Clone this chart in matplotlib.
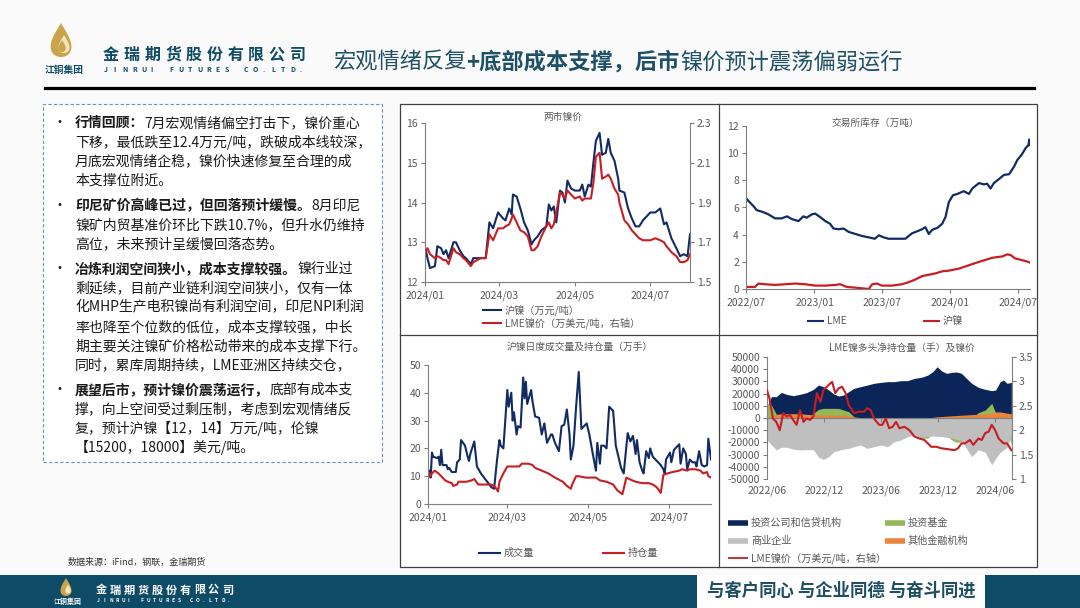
import numpy as np
import pandas as pd
import matplotlib
matplotlib.use('Agg')
import matplotlib.pyplot as plt
import matplotlib.dates as mdates
from matplotlib.lines import Line2D
from matplotlib.patches import Rectangle, Polygon

plt.rcParams['font.family'] = ['Noto Sans CJK SC', 'DejaVu Sans']
plt.rcParams['axes.unicode_minus'] = False

# ---------------- data ----------------
# chart 1: 两市镍价
c1_dates = ['2024-01-02', '2024-01-03', '2024-01-05', '2024-01-09', '2024-01-11', '2024-01-14',
            '2024-01-16', '2024-01-18', '2024-01-20', '2024-01-24', '2024-01-26', '2024-01-29',
            '2024-02-01', '2024-02-03', '2024-02-07', '2024-02-09', '2024-02-15', '2024-02-19',
            '2024-02-22', '2024-02-25', '2024-02-29', '2024-03-04', '2024-03-06', '2024-03-09',
            '2024-03-11', '2024-03-12', '2024-03-15', '2024-03-18', '2024-03-21', '2024-03-24',
            '2024-03-27', '2024-03-29', '2024-04-01', '2024-04-04', '2024-04-08', '2024-04-10',
            '2024-04-12', '2024-04-14', '2024-04-16', '2024-04-19', '2024-04-21', '2024-04-23',
            '2024-04-25', '2024-04-28', '2024-05-01', '2024-05-05', '2024-05-07', '2024-05-09',
            '2024-05-12', '2024-05-14', '2024-05-16', '2024-05-18', '2024-05-21', '2024-05-23',
            '2024-05-26', '2024-05-28', '2024-05-30', '2024-06-02', '2024-06-05', '2024-06-06',
            '2024-06-10', '2024-06-13', '2024-06-16', '2024-06-19', '2024-06-22', '2024-06-25',
            '2024-07-01', '2024-07-05', '2024-07-09', '2024-07-12', '2024-07-14', '2024-07-18',
            '2024-07-22', '2024-07-25', '2024-07-28', '2024-07-31', '2024-08-02']
c1_shfe = [12.75, 12.6, 12.35, 12.4, 12.9, 12.85, 12.7, 12.8, 12.6, 13.0, 13.0, 12.8,
           12.65, 12.6, 12.45, 12.6, 12.6, 12.6, 13.5, 13.35, 13.75,
           13.6, 13.55, 13.85, 13.7, 14.2, 14.15, 13.85, 13.5, 13.3, 12.95, 13.05,
           13.15, 13.3, 13.4, 13.95, 13.8, 13.9, 13.5, 14.3, 14.25, 14.0, 14.55, 14.35,
           14.3, 14.3, 14.45, 14.15, 14.45, 14.4, 15.0, 15.55, 15.75, 15.2, 15.25, 15.6, 15.25,
           15.05, 14.6, 14.3, 14.25, 13.85, 13.6, 13.4, 13.4, 13.55,
           13.75, 13.75, 13.85, 13.45, 13.5, 13.1, 12.85, 12.65, 12.7, 12.65, 13.2]
c1_lme = [1.66, 1.67, 1.64, 1.62, 1.63, 1.62, 1.61, 1.61, 1.59, 1.67, 1.65, 1.64,
          1.62, 1.61, 1.58, 1.60, 1.62, 1.62, 1.74, 1.71, 1.77,
          1.77, 1.78, 1.79, 1.82, 1.84, 1.80, 1.76, 1.75, 1.73, 1.66, 1.66,
          1.68, 1.73, 1.78, 1.80, 1.77, 1.79, 1.85, 1.95, 1.94, 1.92, 1.96, 1.94,
          1.92, 1.93, 1.91, 1.92, 1.92, 1.92, 2.00, 2.13, 2.15, 2.02, 2.03, 2.04, 2.02,
          1.97, 1.94, 1.90, 1.81, 1.79, 1.76, 1.74, 1.72, 1.71,
          1.71, 1.72, 1.71, 1.70, 1.68, 1.65, 1.63, 1.60, 1.60, 1.61, 1.64]

# chart 2: 交易所库存
c2_lme_dates = ['2022-07-01', '2022-07-07', '2022-07-21', '2022-07-30', '2022-08-12', '2022-08-30',
                '2022-09-17', '2022-10-05', '2022-10-19', '2022-11-01', '2022-11-19', '2022-12-02',
                '2022-12-11', '2022-12-25', '2023-01-03', '2023-01-16', '2023-01-30', '2023-02-12',
                '2023-02-21', '2023-03-07', '2023-03-20', '2023-04-03', '2023-04-21', '2023-05-09',
                '2023-05-27', '2023-06-12', '2023-06-23', '2023-07-06', '2023-07-19', '2023-08-06',
                '2023-09-02', '2023-09-20', '2023-10-04', '2023-10-17', '2023-10-26', '2023-11-04',
                '2023-11-13', '2023-11-27', '2023-12-10', '2023-12-19', '2023-12-28', '2024-01-08',
                '2024-01-20', '2024-02-06', '2024-02-20', '2024-02-29', '2024-03-18', '2024-03-31',
                '2024-04-09', '2024-04-18', '2024-04-27', '2024-05-11', '2024-05-24', '2024-06-07',
                '2024-06-20', '2024-06-29', '2024-07-11', '2024-07-22', '2024-07-29', '2024-07-31',
                '2024-08-01']
c2_lme = [6.7, 6.5, 6.1, 5.8, 5.7, 5.5, 5.2, 5.2, 5.35, 5.15, 5.0, 5.35, 5.25, 5.5,
          5.55, 5.3, 5.0, 4.8, 4.45, 4.4, 4.45, 4.2, 4.05, 3.9, 3.8, 3.7, 3.95, 3.8, 3.7, 3.7,
          3.7, 4.1, 4.25, 4.4, 4.55, 4.05, 4.35, 4.5, 4.8, 5.3, 6.4,
          6.9, 7.0, 7.2, 7.0, 7.4, 7.8, 7.7, 7.75, 7.4, 7.8, 8.1, 8.4, 8.45, 9.0, 9.5, 9.9,
          10.4, 10.6, 11.0, 10.6]
c2_shfe_dates = ['2022-07-01', '2022-07-25', '2022-08-03', '2022-08-21', '2022-09-17', '2022-10-14',
                 '2022-11-10', '2022-12-07', '2023-01-03', '2023-01-30', '2023-02-26', '2023-03-11',
                 '2023-03-29', '2023-04-21', '2023-05-09', '2023-05-27', '2023-06-05', '2023-06-18',
                 '2023-07-01', '2023-07-28', '2023-08-24', '2023-09-11', '2023-09-29', '2023-10-17',
                 '2023-11-04', '2023-11-22', '2023-12-10', '2023-12-28', '2024-01-24', '2024-02-20',
                 '2024-03-18', '2024-04-05', '2024-04-23', '2024-05-20', '2024-06-02', '2024-06-11',
                 '2024-06-23', '2024-07-08', '2024-07-22', '2024-08-01']
c2_shfe = [0.15, 0.15, 0.4, 0.35, 0.3, 0.35, 0.4, 0.35, 0.25, 0.25, 0.3, 0.35, 0.15, 0.1,
           0.05, 0.0, 0.35, 0.4, 0.25, 0.25, 0.35, 0.5, 0.7, 0.95, 1.05, 1.15, 1.3, 1.35,
           1.5, 1.75, 2.0, 2.15, 2.3, 2.4, 2.55, 2.5, 2.25, 2.15, 2.05, 1.95]

# chart 3: 沪镍日度成交量及持仓量
c3_vol_dates = ['2024-01-02', '2024-01-03', '2024-01-04', '2024-01-05', '2024-01-08', '2024-01-09',
                '2024-01-10', '2024-01-11', '2024-01-12', '2024-01-15', '2024-01-16', '2024-01-17',
                '2024-01-19', '2024-01-22', '2024-01-23', '2024-01-25', '2024-01-26', '2024-01-29',
                '2024-01-31', '2024-02-01', '2024-02-02', '2024-02-05', '2024-02-07', '2024-02-10',
                '2024-02-14', '2024-02-18', '2024-02-20', '2024-02-22', '2024-02-24', '2024-02-25',
                '2024-02-27', '2024-03-01', '2024-03-02', '2024-03-04', '2024-03-05', '2024-03-06',
                '2024-03-08', '2024-03-09', '2024-03-11', '2024-03-13', '2024-03-14', '2024-03-15',
                '2024-03-16', '2024-03-19', '2024-03-20', '2024-03-22', '2024-03-25', '2024-03-27',
                '2024-03-29', '2024-03-31', '2024-04-03', '2024-04-04', '2024-04-06', '2024-04-09',
                '2024-04-11', '2024-04-13', '2024-04-15', '2024-04-17', '2024-04-18', '2024-04-20',
                '2024-04-22', '2024-04-24', '2024-04-26', '2024-04-28', '2024-04-30', '2024-05-02',
                '2024-05-05', '2024-05-07', '2024-05-08', '2024-05-10', '2024-05-11', '2024-05-13',
                '2024-05-15', '2024-05-17', '2024-05-20', '2024-05-22', '2024-05-24', '2024-05-26',
                '2024-05-28', '2024-05-31', '2024-06-02', '2024-06-04', '2024-06-06', '2024-06-07',
                '2024-06-09', '2024-06-11', '2024-06-12', '2024-06-14', '2024-06-16', '2024-06-17',
                '2024-06-19', '2024-06-22', '2024-06-25', '2024-06-27', '2024-06-28', '2024-06-29',
                '2024-07-02', '2024-07-03', '2024-07-05', '2024-07-07', '2024-07-09', '2024-07-10',
                '2024-07-12', '2024-07-14', '2024-07-15', '2024-07-17', '2024-07-19', '2024-07-21',
                '2024-07-22', '2024-07-24', '2024-07-26', '2024-07-28', '2024-07-30', '2024-07-31',
                '2024-08-02']
c3_vol = [12, 9.5, 18.5, 17, 16.5, 17, 14, 19.5, 14, 14, 12.5, 13,
          11.5, 11.5, 15, 16, 23, 21, 17, 15.5, 18, 22.5, 13.5, 11,
          8.5, 6, 5.5, 15, 23, 21, 20, 41, 35, 40, 30, 33,
          25, 28, 27.5, 45.5, 38, 44, 36, 41, 37, 31.5, 31, 25,
          29, 22, 25, 25, 22, 19, 28, 28.5, 34, 25, 16, 21,
          35, 47.5, 27, 28, 29, 25, 17, 12, 22, 14.5, 21, 21,
          20, 35, 33.5, 21, 17, 13, 11, 25.5, 22.5, 24.5, 18, 23,
          15, 12, 11, 19, 16.5, 20, 17, 15.5, 14, 12.5, 11, 16,
          18.5, 15, 19.5, 20.5, 21.5, 14.5, 20, 18, 12.5, 16, 15, 15,
          13.5, 19, 14, 13.5, 14, 23.5, 16]
c3_oi_dates = ['2024-01-02', '2024-01-03', '2024-01-04', '2024-01-06', '2024-01-09', '2024-01-11',
               '2024-01-14', '2024-01-16', '2024-01-19', '2024-01-20', '2024-01-23', '2024-01-24',
               '2024-01-26', '2024-01-30', '2024-02-03', '2024-02-05', '2024-02-08', '2024-02-13',
               '2024-02-18', '2024-02-21', '2024-02-23', '2024-02-24', '2024-02-27', '2024-03-01',
               '2024-03-04', '2024-03-07', '2024-03-10', '2024-03-12', '2024-03-17', '2024-03-20',
               '2024-03-22', '2024-03-27', '2024-04-01', '2024-04-06', '2024-04-12', '2024-04-15',
               '2024-04-18', '2024-04-19', '2024-04-22', '2024-04-24', '2024-04-29', '2024-05-04',
               '2024-05-07', '2024-05-10', '2024-05-15', '2024-05-20', '2024-05-23', '2024-05-27',
               '2024-05-28', '2024-05-30', '2024-06-01', '2024-06-06', '2024-06-11', '2024-06-16',
               '2024-06-19', '2024-06-22', '2024-06-25', '2024-06-27', '2024-06-30', '2024-07-04',
               '2024-07-09', '2024-07-11', '2024-07-15', '2024-07-17', '2024-07-21', '2024-07-25',
               '2024-07-27', '2024-07-30', '2024-07-31', '2024-08-02']
c3_oi = [11, 10, 11, 12, 11, 10, 8.5, 8, 7.5, 6.5, 7, 8,
         8, 8, 8.5, 9, 7, 7, 7, 6, 4.5, 8, 11, 13.5,
         13.5, 13.5, 13.5, 14.5, 14.5, 14, 13, 12, 11, 9.5, 8, 6.5,
         5.5, 7, 10, 10, 9.5, 9.5, 9.5, 8.5, 8, 7, 5, 3.5,
         5.5, 9.5, 9, 8, 7.5, 7.5, 7, 6, 4, 10.5, 11, 11.5,
         12, 12.5, 12, 12.5, 12.5, 12, 11, 11.5, 10, 9.5]

# chart 4: LME镍多头净持仓量（手）及镍价
c4_dates = ['2022-06-01', '2022-06-15', '2022-07-01', '2022-07-17', '2022-08-03', '2022-08-24',
            '2022-09-15', '2022-10-06', '2022-10-28', '2022-11-13', '2022-11-29', '2022-12-16',
            '2023-01-01', '2023-01-17', '2023-02-02', '2023-02-18', '2023-03-07', '2023-03-28',
            '2023-04-19', '2023-05-10', '2023-06-01', '2023-06-23', '2023-07-14', '2023-08-05',
            '2023-08-26', '2023-09-17', '2023-10-09', '2023-10-30', '2023-11-15', '2023-11-29',
            '2023-12-12', '2023-12-29', '2024-01-14', '2024-01-30', '2024-02-15', '2024-03-02',
            '2024-03-19', '2024-04-09', '2024-05-01', '2024-05-22', '2024-06-04', '2024-06-18',
            '2024-06-29', '2024-07-10', '2024-07-24']
c4_invest = [9000, 17500, 17500, 21000, 19400, 18300, 19400, 20800, 23500, 27000, 25700, 23000,
             19700, 18000, 18900, 21600, 24300, 25700, 27000, 28400, 29200, 29800, 29800, 30600,
             30600, 32500, 33300, 35200, 38000, 42000, 38800, 36600,
             37400, 37700, 36600, 32500, 28400, 25100, 23500, 22400, 23000, 29800, 31100, 28400, 29200]
c4_funds = [12000, 10700, 3000, 500, 0, 0, 0, 0, 3800, 7000, 7900, 7900,
            7900, 7900, 6500, 5200, 1000, -5000, -8000, -8000, -8000, -10000, -10000, -10000,
            -12000, -13000, -16500, -16500, -13000, -12000, -12000, -14000,
            -18000, -20000, -19500, -8000, 0, 4400, 6500, 12000, 4000, 2500, 0, -10000, -22000]
c4_commercial = [-18000, -22000, -26200, -24000, -24000, -25500, -26200, -26000, -26000, -32000, -34000, -31700,
                 -27600, -26500, -25500, -24900, -23500, -22100, -24900, -23500, -22100, -23500, -19400, -18000,
                 -15300, -13900, -15800, -15300, -14800, -15000, -15300, -15800,
                 -16500, -17500, -18600, -25000, -31700, -26000, -28000, -38500, -33000, -28000, -26200, -24000, -14000]
c4_other = [0, 1500, 3000, 3500, 3500, 3500, 3500, 3000, 2500, 2500, 2500, 2500,
            2500, 2500, 2500, 2000, 1000, 300, 0, 0, 0, 0, 0, 0,
            0, 0, 0, 0, 500, 1000, 1200, 1500,
            1800, 2000, 2300, 2500, 2800, 3000, 3500, 4000, 5000, 5000, 4500, 4000, 3500]
c4_price_dates = ['2022-06-01', '2022-06-09', '2022-06-20', '2022-07-01', '2022-07-12', '2022-07-23',
                  '2022-08-03', '2022-08-14', '2022-08-24', '2022-09-04', '2022-09-15', '2022-09-26',
                  '2022-10-06', '2022-10-17', '2022-10-28', '2022-11-08', '2022-11-19', '2022-11-29',
                  '2022-12-16', '2022-12-27', '2023-01-06', '2023-01-17', '2023-01-28', '2023-02-08',
                  '2023-02-18', '2023-03-07', '2023-03-23', '2023-04-08', '2023-04-19', '2023-04-30',
                  '2023-05-10', '2023-05-27', '2023-06-06', '2023-06-17', '2023-06-28', '2023-07-09',
                  '2023-07-20', '2023-07-31', '2023-08-16', '2023-09-01', '2023-09-17', '2023-10-03',
                  '2023-10-19', '2023-11-10', '2023-11-26', '2023-12-12', '2024-01-03', '2024-01-24',
                  '2024-02-04', '2024-02-15', '2024-02-26', '2024-03-13', '2024-03-24', '2024-04-09',
                  '2024-04-20', '2024-05-01', '2024-05-12', '2024-05-22', '2024-06-02', '2024-06-13',
                  '2024-06-29', '2024-07-10', '2024-07-24']
c4_price = [2.82, 2.65, 2.24, 2.17, 2.0, 2.35, 2.28, 2.31, 2.21, 2.11, 2.41, 2.17,
            2.24, 2.21, 2.28, 2.76, 2.58, 2.82, 2.93, 2.99, 2.76, 2.86, 2.89, 2.76,
            2.52, 2.35, 2.38, 2.38, 2.45, 2.41, 2.24, 2.11, 2.11, 2.24, 2.04, 2.07,
            2.17, 2.04, 2.07, 2.0, 1.87, 1.83, 1.8, 1.66, 1.66, 1.63, 1.61, 1.59,
            1.63, 1.73, 1.73, 1.8, 1.7, 1.83, 1.8, 1.94, 1.97, 2.11, 2.0, 1.83,
            1.73, 1.73, 1.59]

# text
title_parts = [('宏观情绪反复', False), ('+底部成本支撑，后市', True), ('镍价预计震荡偏弱运行', False)]
paragraphs = [
    [[('行情回顾：', True), ('7月宏观情绪偏空打击下，镍价重心', False)],
     [('下移，最低跌至12.4万元/吨，跌破成本线较深，', False)],
     [('月底宏观情绪企稳，镍价快速修复至合理的成', False)],
     [('本支撑位附近。', False)]],
    [[('印尼矿价高峰已过，但回落预计缓慢。', True), ('8月印尼', False)],
     [('镍矿内贸基准价环比下跌10.7%，但升水仍维持', False)],
     [('高位，未来预计呈缓慢回落态势。', False)]],
    [[('冶炼利润空间狭小，成本支撑较强。', True), ('镍行业过', False)],
     [('剩延续，目前产业链利润空间狭小，仅有一体', False)],
     [('化MHP生产电积镍尚有利润空间，印尼NPI利润', False)],
     [('率也降至个位数的低位，成本支撑较强，中长', False)],
     [('期主要关注镍矿价格松动带来的成本支撑下行。', False)],
     [('同时，累库周期持续，LME亚洲区持续交仓，', False)]],
    [[('展望后市，预计镍价震荡运行，', True), ('底部有成本支', False)],
     [('撑，向上空间受过剩压制，考虑到宏观情绪反', False)],
     [('复，预计沪镍【12，14】万元/吨，伦镍', False)],
     [('【15200，18000】美元/吨。', False)]],
]
para_top = [123, 206, 269, 390]

NAVY = '#122b62'
RED = '#c81e23'
AREA_NAVY = '#0b2559'
GREEN = '#93b857'
GRAY = '#bfbfbf'
ORANGE = '#e8843c'
SPINE = '#7f7f7f'
TXT = '#595959'
TEAL = '#0e4b66'
TITLE_C = '#1f5166'
TICK_FS = 7.5

W, H = 1080, 608
fig = plt.figure(figsize=(10.8, 6.08), dpi=100, facecolor='#fafafa')
renderer = fig.canvas.get_renderer()


def fx(x):
    return x / W


def fy(y):
    return 1 - y / H


def add_ax(l, t, r, b):
    return fig.add_axes([l / W, 1 - b / H, (r - l) / W, (b - t) / H])


def rect_px(x, y, w, h, zorder=-5, **kw):
    fig.add_artist(Rectangle((fx(x), fy(y + h)), w / W, h / H, transform=fig.transFigure,
                             zorder=zorder, **kw))


def line_px(x1, y1, x2, y2, **kw):
    fig.add_artist(Line2D([fx(x1), fx(x2)], [fy(y1), fy(y2)], transform=fig.transFigure, **kw))


def rich_text(x, y, parts, size, color, **kw):
    for txt, bold in parts:
        t = fig.text(fx(x), fy(y), txt, fontsize=size, color=color, va='center', ha='left',
                     fontweight='bold' if bold else 'normal', **kw)
        x += t.get_window_extent(renderer).width


def spaced_text(x, y, s, step, size, color, weight='bold'):
    for i, ch in enumerate(s):
        fig.text(fx(x + i * step), fy(y), ch, fontsize=size, color=color, va='center', ha='left',
                 fontweight=weight)


def key(x, y, color, label, lw=1.5, w=20):
    line_px(x, y, x + w, y, color=color, lw=lw, solid_capstyle='butt')
    fig.text(fx(x + w + 3), fy(y), label, fontsize=7.3, color=TXT, va='center', ha='left')


def teardrop(cx, cy, h, color):
    t = np.linspace(0, 2 * np.pi, 120)
    xs = cx + np.sin(t) * np.sin(t / 2) ** 1.3 * h * 0.42
    ys = cy - np.cos(t) * h / 2
    fig.add_artist(Polygon(np.column_stack([fx(xs), fy(ys)]), closed=True, transform=fig.transFigure,
                           facecolor=color, edgecolor='none'))


def style(ax, left=True, right=False):
    for s in ['top', 'right', 'left', 'bottom']:
        ax.spines[s].set_visible(False)
    if left:
        ax.spines['left'].set_visible(True)
        ax.spines['left'].set_color(SPINE)
        ax.spines['left'].set_linewidth(0.8)
    if right:
        ax.spines['right'].set_visible(True)
        ax.spines['right'].set_color(SPINE)
        ax.spines['right'].set_linewidth(0.8)
    ax.tick_params(direction='out', length=3, width=0.8, color=SPINE, labelsize=TICK_FS,
                   labelcolor=TXT, pad=2)
    ax.set_facecolor('none')


def date_axis(ax, start, end, ticks, labels, bottom=True):
    ax.set_xlim(pd.Timestamp(start), pd.Timestamp(end))
    ax.set_xticks(pd.to_datetime(ticks))
    ax.set_xticklabels(labels)
    if bottom:
        ax.spines['bottom'].set_visible(True)
        ax.spines['bottom'].set_color(SPINE)
        ax.spines['bottom'].set_linewidth(0.8)
    ax.tick_params(axis='x', pad=3)


# ---------------- header ----------------
teardrop(61, 40, 34, '#c9a44c')
teardrop(64, 44, 18, '#f3e6bd')
teardrop(62, 46, 12, '#c9a44c')
fig.text(fx(64), fy(70), '江铜集团', fontsize=7, fontweight='bold', color=TEAL, ha='center', va='center')
spaced_text(103, 55, '金瑞期货股份有限公司', 20.7, 11.5, TEAL)
spaced_text(104, 69, 'JINRUI FUTURES CO.LTD.', 9.3, 5, TEAL)
rich_text(333, 62, title_parts, 16, TITLE_C)
line_px(45, 88, 1034, 88, color='black', lw=2.3)

# ---------------- left text box ----------------
rect_px(43, 104, 339, 358, facecolor='white', edgecolor='#6f8fb5', lw=0.8, linestyle=(0, (3, 2)))
for top, para in zip(para_top, paragraphs):
    fig.text(fx(53), fy(top), '•', fontsize=10, color='#1a1a1a', va='center', ha='left')
    for i, parts in enumerate(para):
        rich_text(75, top + i * 19.3, parts, 10, '#1a1a1a')
fig.text(fx(68), fy(562), '数据来源：iFind，钢联，金瑞期货', fontsize=6.5, color='#333333',
         va='center', ha='left', style='italic')

# ---------------- chart panels ----------------
rect_px(400, 104, 637, 463, facecolor='white', edgecolor='#404040', lw=0.9)
line_px(719, 104, 719, 567, color='#404040', lw=0.9, zorder=-4)
line_px(400, 335, 1037, 335, color='#404040', lw=0.9, zorder=-4)

# chart 1
ax1 = add_ax(425, 123, 690, 282)
style(ax1)
d1 = pd.to_datetime(c1_dates)
ax1.plot(d1, c1_shfe, color=NAVY, lw=1.5)
ax1.set_ylim(12, 16)
ax1.set_yticks([12, 13, 14, 15, 16])
date_axis(ax1, '2024-01-01', '2024-08-02',
          ['2024-01-01', '2024-03-01', '2024-05-01', '2024-07-01'],
          ['2024/01', '2024/03', '2024/05', '2024/07'])
ax1r = ax1.twinx()
style(ax1r, left=False, right=True)
ax1r.plot(d1, c1_lme, color=RED, lw=1.5)
ax1r.set_ylim(1.5, 2.3)
ax1r.set_yticks([1.5, 1.7, 1.9, 2.1, 2.3])
ax1r.set_yticklabels(['1.5', '1.7', '1.9', '2.1', '2.3'])
fig.text(fx(563), fy(117), '两市镍价', fontsize=7, color=TXT, ha='center', va='center')
key(482, 310, NAVY, '沪镍（万元/吨）')
key(482, 323, RED, 'LME镍价（万美元/吨，右轴）')

# chart 2
ax2 = add_ax(746, 126, 1030, 289)
style(ax2)
ax2.plot(pd.to_datetime(c2_lme_dates), c2_lme, color=NAVY, lw=1.6)
ax2.plot(pd.to_datetime(c2_shfe_dates), c2_shfe, color=RED, lw=1.6)
ax2.set_ylim(0, 12)
ax2.set_yticks(range(0, 13, 2))
date_axis(ax2, '2022-07-01', '2024-08-02',
          ['2022-07-01', '2023-01-01', '2023-07-01', '2024-01-01', '2024-07-01'],
          ['2022/07', '2023/01', '2023/07', '2024/01', '2024/07'])
fig.text(fx(875), fy(123), '交易所库存（万吨）', fontsize=7, color=TXT, ha='center', va='center')
key(807, 321, NAVY, 'LME', w=17)
key(923, 321, RED, '沪镍', w=17)

# chart 3
ax3 = add_ax(428, 365, 711, 504)
style(ax3)
ax3.plot(pd.to_datetime(c3_vol_dates), c3_vol, color=NAVY, lw=1.5)
ax3.plot(pd.to_datetime(c3_oi_dates), c3_oi, color=RED, lw=1.5)
ax3.set_ylim(0, 50)
ax3.set_yticks(range(0, 51, 10))
date_axis(ax3, '2024-01-01', '2024-08-02',
          ['2024-01-01', '2024-03-01', '2024-05-01', '2024-07-01'],
          ['2024/01', '2024/03', '2024/05', '2024/07'])
fig.text(fx(580), fy(347), '沪镍日度成交量及持仓量（万手）', fontsize=7, color=TXT, ha='center', va='center')
key(478, 553, NAVY, '成交量', w=23)
key(602, 553, RED, '持仓量', w=23)

# chart 4
ax4 = add_ax(767, 357, 1012, 479)
style(ax4)
d4 = pd.to_datetime(c4_dates)
ax4.fill_between(d4, 0, c4_invest, color=AREA_NAVY, lw=0)
ax4.fill_between(d4, 0, c4_funds, color=GREEN, lw=0)
ax4.fill_between(d4, 0, c4_commercial, color=GRAY, lw=0)
ax4.fill_between(d4, 0, c4_other, color=ORANGE, lw=0)
ax4.set_ylim(-50000, 50000)
ax4.set_yticks(range(-50000, 50001, 10000))
ax4.set_yticklabels([str(v) for v in range(-50000, 50001, 10000)])
ticks4 = ['2022-06-01', '2022-12-01', '2023-06-01', '2023-12-01', '2024-06-01']
labels4 = ['2022/06', '2022/12', '2023/06', '2023/12', '2024/06']
date_axis(ax4, '2022-06-01', '2024-07-26', ticks4, labels4)
ax4.spines['bottom'].set_position(('data', 0))
ax4.tick_params(axis='x', labelbottom=False)
sec = ax4.secondary_xaxis('bottom')
sec.set_xticks(mdates.date2num(pd.to_datetime(ticks4)), labels=labels4)
sec.spines['bottom'].set_visible(False)
sec.tick_params(length=0, labelsize=TICK_FS, labelcolor=TXT, pad=5)
ax4r = ax4.twinx()
style(ax4r, left=False, right=True)
ax4r.plot(pd.to_datetime(c4_price_dates), c4_price, color=RED, lw=1.5)
ax4r.set_ylim(1, 3.5)
ax4r.set_yticks([1, 1.5, 2, 2.5, 3, 3.5])
ax4r.set_yticklabels(['1', '1.5', '2', '2.5', '3', '3.5'])
fig.text(fx(902), fy(348), 'LME镍多头净持仓量（手）及镍价', fontsize=7, color=TXT, ha='center', va='center')
key(728, 523, AREA_NAVY, '投资公司和信贷机构', lw=4)
key(885, 523, GREEN, '投资基金', lw=4)
key(728, 541, GRAY, '商业企业', lw=4)
key(885, 541, ORANGE, '其他金融机构', lw=4)
key(728, 558, RED, 'LME镍价（万美元/吨，右轴）', lw=1.3)

# ---------------- footer ----------------
rect_px(0, 575, 697, 33, facecolor=TEAL, edgecolor='none')
rect_px(697, 575, 288, 33, facecolor='white', edgecolor='none')
rect_px(985, 575, 95, 33, facecolor=TEAL, edgecolor='none')
teardrop(66, 587, 18, '#c9a44c')
teardrop(68, 589, 9, '#f3e6bd')
fig.text(fx(68), fy(601), '江铜集团', fontsize=5, fontweight='bold', color='white', ha='center', va='center')
spaced_text(96, 590, '金瑞期货股份有限公司', 14, 8, 'white')
spaced_text(97, 600, 'JINRUI FUTURES CO.LTD.', 6.2, 3.5, 'white')
fig.text(fx(841), fy(591), '与客户同心 与企业同德 与奋斗同进', fontsize=12.5, fontweight='bold',
         color='#1d4e63', ha='center', va='center')

fig.savefig('out.png', dpi=100, facecolor=fig.get_facecolor())
